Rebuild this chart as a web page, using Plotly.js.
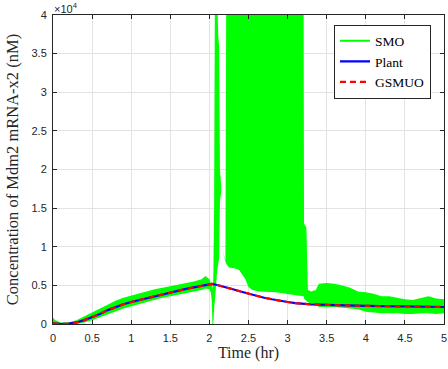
<!DOCTYPE html>
<html>
<head>
<meta charset="utf-8">
<script src="https://cdn.plot.ly/plotly-3.0.1.min.js"></script>
<style>html,body{margin:0;padding:0;background:#fff;}#chart{width:448px;height:369px;}</style>
</head>
<body>
<div id="chart"></div>
<script>
// Values in units of 10^4 nM
var smoT = [0, 0.03, 0.1, 0.2, 0.3, 0.4, 0.5, 0.6, 0.7, 0.8, 0.9, 1.0, 1.1, 1.2, 1.3, 1.4, 1.5, 1.6, 1.7, 1.8, 1.9, 1.95, 2.0, 2.02, 2.03, 2.04, 2.05, 2.06, 2.07, 2.10, 2.115, 2.125, 2.135, 2.15, 2.16, 2.205, 2.215, 2.25, 2.33, 2.38, 2.42, 2.46, 2.50, 2.55, 2.63, 2.85, 3.06, 3.20, 3.205, 3.21, 3.24, 3.26, 3.30, 3.36, 3.40, 3.50, 3.60, 3.70, 3.80, 3.90, 4.00, 4.10, 4.20, 4.30, 4.40, 4.50, 4.60, 4.70, 4.80, 4.90, 5.00];
var smoUpper = [0.08, 0.05, 0.02, 0.02, 0.05, 0.10, 0.16, 0.20, 0.26, 0.30, 0.34, 0.37, 0.39, 0.42, 0.45, 0.47, 0.49, 0.51, 0.53, 0.55, 0.58, 0.62, 0.58, 0.52, 0.55, 0.45, 0.60, 1.5, 4.2, 4.2, 3.7, 3.6, 2.0, 1.8, 1.0, 0.8, 4.2, 4.2, 4.2, 4.2, 4.2, 4.2, 4.2, 4.2, 4.2, 4.2, 4.2, 4.2, 4.2, 1.3, 1.25, 0.44, 0.42, 0.44, 0.52, 0.53, 0.52, 0.50, 0.47, 0.42, 0.41, 0.39, 0.36, 0.36, 0.34, 0.32, 0.31, 0.34, 0.36, 0.33, 0.32];
var smoLower = [0.0, 0.0, -0.01, -0.01, 0.0, 0.02, 0.05, 0.09, 0.13, 0.17, 0.20, 0.23, 0.26, 0.28, 0.31, 0.34, 0.36, 0.38, 0.40, 0.42, 0.44, 0.46, 0.45, 0.40, 0.30, -0.05, 0.0, 0.2, 0.3, 0.7, 0.8, 0.85, 1.6, 1.7, 1.0, 0.8, 0.78, 0.73, 0.72, 0.70, 0.64, 0.58, 0.48, 0.44, 0.42, 0.41, 0.38, 0.36, 0.36, 0.33, 0.30, 0.28, 0.27, 0.26, 0.22, 0.22, 0.22, 0.21, 0.20, 0.19, 0.16, 0.15, 0.14, 0.14, 0.14, 0.13, 0.13, 0.14, 0.14, 0.13, 0.14];

var plantT = [0, 0.1, 0.2, 0.3, 0.4, 0.5, 0.6, 0.7, 0.8, 0.9, 1.0, 1.1, 1.2, 1.3, 1.4, 1.5, 1.6, 1.7, 1.8, 1.9, 2.0, 2.03, 2.1, 2.2, 2.3, 2.4, 2.5, 2.6, 2.7, 2.8, 2.9, 3.0, 3.1, 3.2, 3.3, 3.4, 3.5, 3.75, 4.0, 4.25, 4.5, 4.75, 5.0];
var plantY = [0.01, 0.0, 0.005, 0.02, 0.05, 0.085, 0.13, 0.18, 0.22, 0.255, 0.285, 0.31, 0.335, 0.36, 0.385, 0.415, 0.435, 0.455, 0.475, 0.495, 0.51, 0.52, 0.505, 0.48, 0.45, 0.42, 0.39, 0.365, 0.34, 0.32, 0.30, 0.285, 0.27, 0.26, 0.255, 0.25, 0.245, 0.24, 0.235, 0.23, 0.225, 0.225, 0.22];
var gsmuoY = [0.01, 0.0, 0.005, 0.02, 0.05, 0.085, 0.13, 0.18, 0.22, 0.255, 0.285, 0.31, 0.335, 0.36, 0.385, 0.415, 0.435, 0.455, 0.475, 0.495, 0.51, 0.52, 0.505, 0.48, 0.45, 0.42, 0.39, 0.365, 0.34, 0.32, 0.30, 0.285, 0.27, 0.26, 0.255, 0.25, 0.245, 0.24, 0.235, 0.23, 0.225, 0.225, 0.22];

var serif = "'Liberation Serif', 'Times New Roman', serif";
var sans = "'Liberation Sans', Arial, sans-serif";
var green = '#00ff00';

var data = [
  {x: [null], y: [null], mode: 'lines', name: 'SMO', line: {color: green, width: 2}, hoverinfo: 'skip'},
  {x: smoT, y: smoLower, mode: 'lines', line: {color: green, width: 0}, showlegend: false, hoverinfo: 'skip'},
  {x: smoT, y: smoUpper, mode: 'lines', fill: 'tonexty', fillcolor: green, line: {color: green, width: 0}, showlegend: false, hoverinfo: 'skip'},
  {x: plantT, y: plantY, mode: 'lines', name: 'Plant', line: {color: '#0000ff', width: 2.2}},
  {x: plantT, y: gsmuoY, mode: 'lines', name: 'GSMUO', line: {color: '#ff0000', width: 2.2, dash: '6px,4px'}}
];

var axisCommon = {
  showline: true, linecolor: '#262626', linewidth: 1, mirror: 'ticks',
  ticks: 'inside', ticklen: 4, tickcolor: '#262626', tickwidth: 1,
  showgrid: true, gridcolor: '#e3e3e3', gridwidth: 1,
  zeroline: false, tickfont: {family: sans, size: 11, color: '#262626'},
  layer: 'above traces'
};

var layout = {
  width: 448, height: 369,
  margin: {l: 53, r: 4, t: 15, b: 45},
  paper_bgcolor: '#ffffff', plot_bgcolor: '#ffffff',
  showlegend: true,
  xaxis: Object.assign({}, axisCommon, {
    range: [0, 5], dtick: 0.5, tick0: 0,
    ticklabelstandoff: 4,
    title: {text: 'Time (hr)', font: {family: serif, size: 16, color: '#262626'}, standoff: 3}
  }),
  yaxis: Object.assign({}, axisCommon, {
    range: [0, 4], dtick: 0.5, tick0: 0,
    ticklabelstandoff: 3,
    title: {text: 'Concentration of Mdm2 mRNA-x2 (nM)', font: {family: serif, size: 16.5, color: '#262626'}, standoff: 8}
  }),
  legend: {
    x: 0.7187, y: 0.969, xanchor: 'left', yanchor: 'top',
    bgcolor: '#ffffff', bordercolor: '#262626', borderwidth: 1,
    font: {family: serif, size: 13.5, color: '#000000'},
    traceorder: 'normal', tracegroupgap: 0, itemwidth: 30
  },
  annotations: [{
    xref: 'paper', yref: 'paper', x: 0, y: 1, xanchor: 'left', yanchor: 'bottom',
    text: '\u00d710<sup>4</sup>', showarrow: false, xshift: -1, yshift: -2,
    font: {family: sans, size: 11, color: '#262626'}
  }]
};

Plotly.newPlot('chart', data, layout, {displayModeBar: false, staticPlot: true});
</script>
</body>
</html>
